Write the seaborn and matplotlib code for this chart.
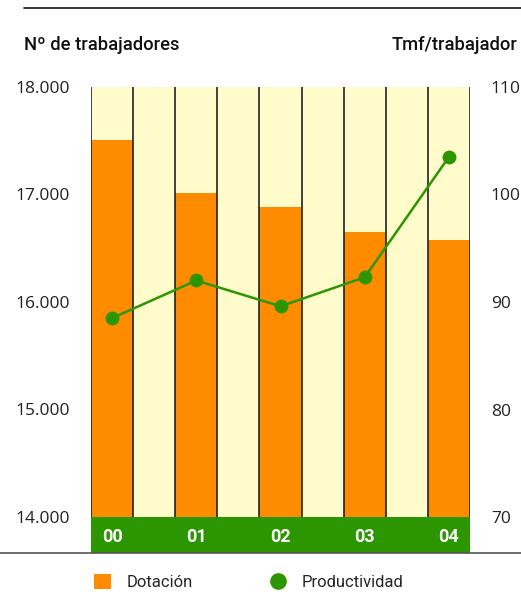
import matplotlib
matplotlib.use("Agg")
import matplotlib.pyplot as plt
from matplotlib.patches import Patch
from matplotlib.lines import Line2D
import seaborn as sns
import pandas as pd

# data
years = ["00", "01", "02", "03", "04"]
dotacion = [17505, 17015, 16885, 16650, 16580]
productividad = [88.5, 92.0, 89.6, 92.3, 103.5]
left_ticks = [14000, 15000, 16000, 17000, 18000]
left_labels = ["14.000", "15.000", "16.000", "17.000", "18.000"]
right_ticks = [70, 80, 90, 100, 110]

ORANGE = "#FF8C00"
GREEN = "#2B9600"
PALE = "#FFFBCB"

df = pd.DataFrame({"pos": [0, 2, 4, 6, 8], "year": years,
                   "dotacion": dotacion, "prod": productividad})

sns.set_style("white")
plt.rcParams["font.family"] = ["Open Sans", "DejaVu Sans"]

fig = plt.figure(figsize=(5.21, 6.04), dpi=100)
W, H = 521, 604
ax = fig.add_axes([91 / W, (H - 553) / H, 379 / W, 466 / H])
ax.set_facecolor(PALE)

sns.barplot(data=df, x="pos", y="dotacion", native_scale=True, width=0.5,
            color=ORANGE, saturation=1, linewidth=0, ax=ax, zorder=2)
ax.set_xlim(-0.5, 8.5)
ybot = 18000 - 466 / 0.1075
ax.set_ylim(ybot, 18000)

# column separators
ax.vlines([i - 0.5 for i in range(10)], 14000, 18000, color="#222222",
          lw=1.2, zorder=3)
# green year band with the year labels
ax.axhspan(ybot, 14000, color=GREEN, zorder=4, lw=0)
for p, y in zip(df["pos"], years):
    ax.text(p, (ybot + 14000) / 2 - 15, y, ha="center", va="center", color="white",
            fontsize=13, fontweight="bold", family=["Roboto", "DejaVu Sans"], zorder=5)

for s in ax.spines.values():
    s.set_visible(False)
ax.set_yticks(left_ticks, left_labels)
ax.tick_params(axis="y", length=0, pad=15, labelsize=12.5, labelcolor="#222222")
ax.set_xticks([])
ax.set_xlabel("")
ax.set_ylabel("")

ax2 = ax.twinx()
sns.lineplot(data=df, x="pos", y="prod", color=GREEN, lw=1.8, marker="o",
             markersize=10, markeredgewidth=0, ax=ax2, zorder=6)
ax2.set_xlim(-0.5, 8.5)
ax2.set_ylim(110 - 466 / 10.75, 110)
ax2.set_yticks(right_ticks, [str(v) for v in right_ticks])
ax2.tick_params(axis="y", length=0, pad=15, labelsize=12.5, labelcolor="#222222")
for s in ax2.spines.values():
    s.set_visible(False)
ax2.set_xlabel("")
ax2.set_ylabel("")

# header and rules
fig.text(24 / W, 1 - 45 / H, "Nº de trabajadores", ha="left", va="center",
         fontsize=13.2, fontweight="medium", family=["Roboto", "DejaVu Sans"], color="#111111")
fig.text(517 / W, 1 - 45 / H, "Tmf/trabajador", ha="right", va="center",
         fontsize=13.2, fontweight="medium", family=["Roboto", "DejaVu Sans"], color="#111111")
fig.add_artist(Line2D([24 / W, 1], [1 - 8 / H, 1 - 8 / H], color="#111111", lw=1.2))
fig.add_artist(Line2D([0, 1], [1 - 553 / H, 1 - 553 / H], color="#555555", lw=1.2))

handles = [Patch(facecolor=ORANGE, edgecolor="none", label="Dotación"),
           Line2D([], [], color=GREEN, marker="o", ls="", markersize=12,
                  markeredgewidth=0, label="Productividad")]
fig.legend(handles=handles, loc="center left", bbox_to_anchor=(94 / W, 1 - 582 / H),
           ncol=2, frameon=False, borderpad=0, borderaxespad=0, handlelength=1.0,
           handleheight=1.0, handletextpad=0.95, columnspacing=4.6,
           prop={"family": ["Roboto", "DejaVu Sans"], "size": 12})

fig.savefig("out.png", dpi=100)
